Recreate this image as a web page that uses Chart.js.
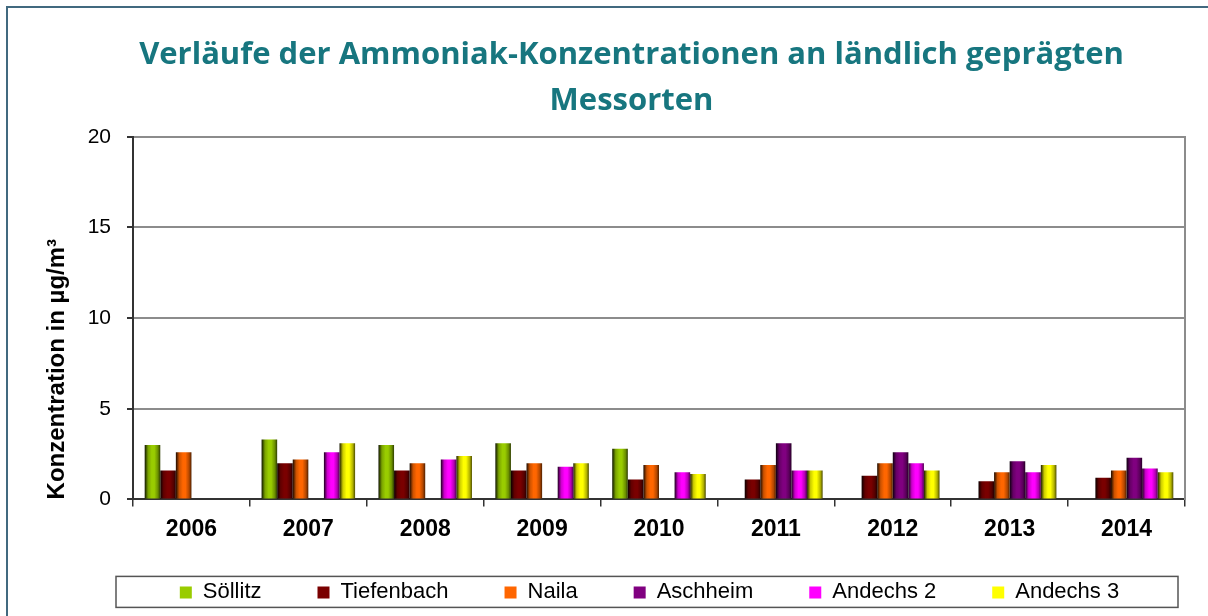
<!DOCTYPE html>
<html>
<head>
<meta charset="utf-8">
<script src="https://cdn.jsdelivr.net/npm/chart.js@4/dist/chart.umd.min.js"></script>
<style>
  html, body { margin: 0; padding: 0; background: #fff; }
  #graph { display: block; }
</style>
</head>
<body>
<canvas id="graph" width="1208" height="616"></canvas>
<script>
const years = ['2006', '2007', '2008', '2009', '2010', '2011', '2012', '2013', '2014'];
const soellitz   = [3.0, 3.3, 3.0, 3.1, 2.8, null, null, null, null];
const tiefenbach = [1.6, 2.0, 1.6, 1.6, 1.1, 1.1, 1.3, 1.0, 1.2];
const naila      = [2.6, 2.2, 2.0, 2.0, 1.9, 1.9, 2.0, 1.5, 1.6];
const aschheim   = [null, null, null, null, null, 3.1, 2.6, 2.1, 2.3];
const andechs2   = [null, 2.6, 2.2, 1.8, 1.5, 1.6, 2.0, 1.5, 1.7];
const andechs3   = [null, 3.1, 2.4, 2.0, 1.4, 1.6, 1.6, 1.9, 1.5];
const yTicks = [0, 5, 10, 15, 20];

const seriesNames = ['Söllitz', 'Tiefenbach', 'Naila', 'Aschheim', 'Andechs 2', 'Andechs 3'];
const seriesData = [soellitz, tiefenbach, naila, aschheim, andechs2, andechs3];
const seriesColors = ['#99CC00', '#7A0000', '#FF6600', '#800080', '#FF00FF', '#FFFF00'];

function shade(hex, f) {
    var n = parseInt(hex.slice(1), 16);
    var r = Math.min(255, Math.round(((n >> 16) & 255) * f));
    var g = Math.min(255, Math.round(((n >> 8) & 255) * f));
    var b = Math.min(255, Math.round((n & 255) * f));
    return 'rgb(' + r + ',' + g + ',' + b + ')';
}

// excel-like cylinder shading, applied to the bars once chart.js has placed them
const cylinderBars = {
    id: 'cylinderBars',
    beforeDatasetsDraw: function(chart) {
        var ctx = chart.ctx;
        chart.data.datasets.forEach(function(ds, i) {
            var base = seriesColors[i];
            chart.getDatasetMeta(i).data.forEach(function(bar) {
                if (!isFinite(bar.x) || !isFinite(bar.width) || !isFinite(bar.y)) return;
                var left = bar.x - bar.width / 2;
                var g = ctx.createLinearGradient(left, 0, left + bar.width, 0);
                g.addColorStop(0, shade(base, 0.1));
                g.addColorStop(0.22, shade(base, 0.8));
                g.addColorStop(0.45, shade(base, 1.0));
                g.addColorStop(0.62, shade(base, 1.0));
                g.addColorStop(0.85, shade(base, 0.7));
                g.addColorStop(1, shade(base, 0.3));
                bar.options = Object.assign({}, bar.options, { backgroundColor: g });
            });
        });
    }
};

// title and legend sit a bit right of centre in the original, legend also tucked up under the axis
const shiftBoxes = {
    id: 'shiftBoxes',
    afterLayout: function(chart) {
        var lg = chart.legend;
        chart.titleBlock.left += 24;
        chart.titleBlock.right += 24;
        lg.left += 42;
        lg.right += 42;
        lg.top = chart.chartArea.bottom + 82 - lg.options.labels.padding;
        lg.bottom = lg.top + lg.height;
    }
};

const frames = {
    id: 'frames',
    beforeDraw: function(chart) {
        var ctx = chart.ctx;
        ctx.save();
        ctx.fillStyle = '#fff';
        ctx.fillRect(0, 0, chart.width, chart.height);
        ctx.strokeStyle = '#41697F';
        ctx.lineWidth = 2;
        ctx.strokeRect(7, 7, chart.width + 20, chart.height + 20);
        ctx.restore();
    },
    afterDraw: function(chart) {
        var ctx = chart.ctx, a = chart.chartArea, lg = chart.legend;
        var itemTop = lg.top + lg.options.labels.padding;
        ctx.save();
        ctx.strokeStyle = '#555';
        ctx.lineWidth = 1.5;
        ctx.strokeRect(a.left - 17, itemTop - 5, a.right - a.left + 10, 31);
        ctx.restore();
    }
};

const datasets = seriesNames.map(function(name, i) {
    return {
        label: name,
        data: seriesData[i],
        backgroundColor: seriesColors[i],
        borderWidth: 0,
        categoryPercentage: 0.8,
        barPercentage: 1.0
    };
});

new Chart(document.getElementById('graph'), {
    type: 'bar',
    data: { labels: years, datasets: datasets },
    plugins: [frames, cylinderBars, shiftBoxes],
    options: {
        responsive: false,
        animation: false,
        devicePixelRatio: 1,
        layout: { padding: { left: 30, right: 23, top: 0, bottom: -24 } },
        plugins: {
            title: {
                display: true,
                text: ['Verläufe der Ammoniak-Konzentrationen an ländlich geprägten', 'Messorten'],
                color: '#17767F',
                font: { family: 'Open Sans', weight: 'bold', size: 31, lineHeight: 1.48 },
                padding: { top: 32, bottom: 13 }
            },
            legend: {
                position: 'bottom',
                labels: {
                    color: '#000',
                    font: { family: 'Liberation Sans', size: 22 },
                    boxWidth: 12,
                    boxHeight: 12,
                    padding: 56
                }
            },
            tooltip: { enabled: false }
        },
        scales: {
            x: {
                grid: {
                    drawOnChartArea: false,
                    offset: true,
                    tickLength: 7,
                    tickColor: '#333',
                    lineWidth: 1.5
                },
                border: { color: '#333', width: 2 },
                ticks: {
                    color: '#000',
                    padding: 9,
                    font: { family: 'Liberation Sans', weight: 'bold', size: 23 }
                }
            },
            y: {
                min: 0,
                max: 20,
                afterBuildTicks: function(scale) {
                    scale.ticks = yTicks.map(function(v) { return { value: v }; });
                },
                grid: {
                    color: function(c) { return c.tick && c.tick.value === 0 ? '#333' : '#8c8c8c'; },
                    lineWidth: 2,
                    tickLength: 6,
                    tickColor: '#333'
                },
                border: { color: '#333', width: 2 },
                ticks: {
                    color: '#000',
                    padding: 16,
                    font: { family: 'Liberation Sans', size: 21 }
                },
                title: {
                    display: true,
                    text: 'Konzentration in µg/m³',
                    align: 'start',
                    color: '#000',
                    padding: { top: 13 },
                    font: { family: 'Liberation Sans', weight: 'bold', size: 24 }
                },
                afterFit: function(scale) { scale.width = 103; }
            },
            yRight: {
                type: 'linear',
                position: 'right',
                display: true,
                min: 0,
                max: 20,
                grid: { drawOnChartArea: false, drawTicks: false },
                border: { color: '#8c8c8c', width: 2 },
                ticks: { display: false },
                afterFit: function(scale) { scale.width = 0; }
            }
        }
    }
});
</script>
</body>
</html>
